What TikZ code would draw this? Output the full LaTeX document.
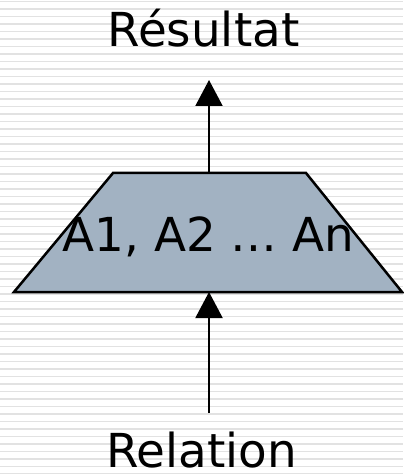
\documentclass[tikz,border=0pt]{standalone}
\usepackage{fontspec}
\setmainfont{DejaVu Sans}
\usetikzlibrary{positioning,arrows.meta}
\tikzstyle{slide} = [x = 1bp, y = -1bp]
\definecolor{opColor}{RGB}{162,178,194}
\definecolor{stripeColor}{RGB}{226,226,226}
\tikzstyle{stripeLine} = [fill=stripeColor]
\tikzstyle{opStyle} = [draw=black, fill=opColor, line width=2.5bp, line join=miter]
\tikzstyle{bigText} = [font=\fontsize{47}{56}\selectfont, inner sep=0pt, anchor=base]
\tikzstyle{flowLine} = [line width=2bp, -{Triangle[width=27bp,length=26bp]}]
\newcommand{\stripes}[1]{
  \foreach \k in {0,...,#1} {
    \fill[stripeLine] (0, 0.6 + 7.5 * \k) rectangle + (403, 1.8);
  }
}

\begin{document}
\begin{tikzpicture}[slide]
        \useasboundingbox (0,0) rectangle (403,474);
        \fill[white] (0,0) rectangle (403,474);
        \stripes{63}

        % operator box
        \coordinate (opTopLeft) at (113, 173);
        \coordinate (opTopRight) at (306, 173);
        \coordinate (opBottomRight) at (402, 292);
        \coordinate (opBottomLeft) at (14, 292);
        \filldraw[opStyle] (opBottomLeft) -- (opTopLeft) -- (opTopRight) -- (opBottomRight) -- cycle;

        \node[bigText] (op) at (208.5, 251) {A1, A2 … An};
        \node[bigText] (res) at (203.5, 47) {Résultat};
        \node[bigText] (rel) at (201.5, 467) {Relation};

        \coordinate (resIn) at (209, 80);
        \coordinate (relOut) at (209, 413);
        \draw[flowLine] (resIn |- opTopLeft) -- (resIn);
        \draw[flowLine] (relOut) -- (relOut |- opBottomLeft);
      \end{tikzpicture}
\end{document}
